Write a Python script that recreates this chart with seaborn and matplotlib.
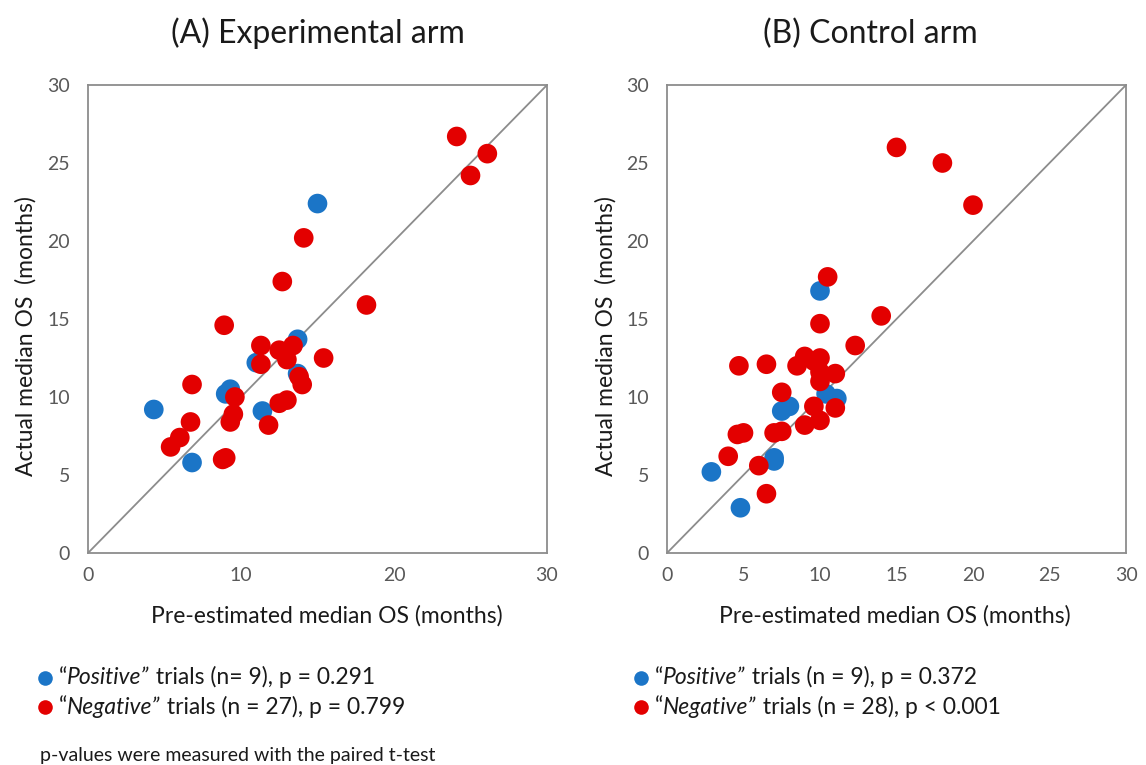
import matplotlib
matplotlib.use("Agg")
import matplotlib.pyplot as plt
import seaborn as sns
import pandas as pd
from matplotlib.lines import Line2D

# ---------------- data ----------------
# Panel A: Experimental arm
a_pos_pre = [15.0, 13.7, 11.0, 13.7, 9.3, 9.0, 4.3, 11.4, 6.8]
a_pos_act = [22.4, 13.7, 12.2, 11.5, 10.5, 10.2, 9.2, 9.1, 5.8]
a_neg_pre = [24.1, 26.1, 25.0, 14.1, 12.7, 18.2, 8.9, 11.3, 12.5, 13.4, 13.0, 11.3,
             15.4, 13.8, 14.0, 6.8, 9.6, 12.5, 13.0, 9.5, 9.3, 6.7, 11.8, 6.0, 5.4,
             8.8, 9.0]
a_neg_act = [26.7, 25.6, 24.2, 20.2, 17.4, 15.9, 14.6, 13.3, 13.0, 13.3, 12.4, 12.1,
             12.5, 11.3, 10.8, 10.8, 10.0, 9.6, 9.8, 8.9, 8.4, 8.4, 8.2, 7.4, 6.8,
             6.0, 6.1]

# Panel B: Control arm
b_pos_pre = [10.0, 10.4, 11.1, 8.0, 7.5, 7.0, 7.0, 2.9, 4.8]
b_pos_act = [16.8, 10.2, 9.9, 9.4, 9.1, 6.1, 5.9, 5.2, 2.9]
b_neg_pre = [15.0, 18.0, 20.0, 10.5, 10.0, 14.0, 12.3, 4.7, 6.5, 8.5, 9.0, 9.6,
             10.0, 10.0, 11.0, 10.0, 7.5, 9.6, 11.0, 10.0, 9.0, 4.6, 5.0, 7.0,
             7.5, 4.0, 6.0, 6.5]
b_neg_act = [26.0, 25.0, 22.3, 17.7, 14.7, 15.2, 13.3, 12.0, 12.1, 12.0, 12.6, 12.3,
             12.5, 11.6, 11.5, 11.0, 10.3, 9.4, 9.3, 8.5, 8.2, 7.6, 7.7, 7.7,
             7.8, 6.2, 5.6, 3.8]

titles = ["(A) Experimental arm", "(B) Control arm"]
legend_a = [("Positive", " trials (n= 9), p = 0.291"),
            ("Negative", " trials (n = 27), p = 0.799")]
legend_b = [("Positive", " trials (n = 9), p = 0.372"),
            ("Negative", " trials (n = 28), p < 0.001")]
ticks = [0, 10, 20, 30]
ticks_b = [0, 5, 10, 15, 20, 25, 30]
yticks = [0, 5, 10, 15, 20, 25, 30]
xlabel = "Pre-estimated median OS (months)"
ylabel = "Actual median OS  (months)"
footnote = "p-values were measured with the paired t-test"

BLUE = "#1b75c7"
RED = "#e30000"
GRAY = "#595959"
TXT = "#1a1a1a"

sns.set_theme(style="white")
plt.rcParams['font.family'] = ['Lato', 'DejaVu Sans']

fig = plt.figure(figsize=(11.46, 7.65), dpi=100)
W, H = 1146, 765


def make_df(pp, pa, np_, na):
    return pd.DataFrame({
        "pre": pp + np_,
        "act": pa + na,
        "grp": ["Positive"] * len(pp) + ["Negative"] * len(np_),
    })


dfs = [make_df(a_pos_pre, a_pos_act, a_neg_pre, a_neg_act),
       make_df(b_pos_pre, b_pos_act, b_neg_pre, b_neg_act)]
lefts = [88, 667]
xtick_sets = [ticks, ticks_b]
legends = [legend_a, legend_b]
title_x = [0.5, 0.442]
xlab_x = [0.52, 0.497]
ylab_x = [-0.112, -0.110]
leg_x0 = [45, 641]
for i in range(2):
    ax = fig.add_axes([lefts[i] / W, 1 - 553 / H, 459 / W, 468 / H])
    ax.plot([0, 30], [0, 30], color="#8c8c8c", lw=1.3, zorder=1)
    sns.scatterplot(data=dfs[i], x="pre", y="act", hue="grp",
                    hue_order=["Positive", "Negative"],
                    palette={"Positive": BLUE, "Negative": RED},
                    s=200, edgecolor="none", legend=False, ax=ax, zorder=3)
    ax.set_xlim(0, 30)
    ax.set_ylim(0, 30)
    ax.set_xticks(xtick_sets[i])
    ax.set_yticks(yticks)
    ax.tick_params(axis="x", length=0, labelsize=14, labelcolor=GRAY, pad=10)
    ax.tick_params(axis="y", length=0, labelsize=14, labelcolor=GRAY, pad=13)
    for sp in ax.spines.values():
        sp.set_color("#8c8c8c")
        sp.set_linewidth(1.3)
    ax.set_xlabel(xlabel, fontsize=16.5, color=TXT)
    ax.xaxis.set_label_coords(xlab_x[i], -0.112)
    ax.set_ylabel(ylabel, fontsize=16.5, color=TXT)
    ax.yaxis.set_label_coords(ylab_x[i], 0.464)
    ax.set_title(titles[i], fontsize=23, pad=30, color=TXT, x=title_x[i])

    # legend (manual, with italic words)
    x0 = leg_x0[i]
    for j, (word, rest) in enumerate(legends[i]):
        yc = [678, 707][j]
        col = [BLUE, RED][j]
        fig.add_artist(Line2D([x0 / W], [1 - yc / H], marker="o", ms=10.5,
                              color=col, mec="none", transform=fig.transFigure))
        t1 = fig.text((x0 + 14) / W, 1 - yc / H, "\u201c", fontsize=16.5,
                      va="center", ha="left", color=TXT)
        t2 = ax.annotate(word + "\u201d", xy=(1, 0), xycoords=t1, va="bottom",
                         ha="left", fontsize=16.5, style="italic",
                         color=TXT, annotation_clip=False)
        ax.annotate(rest, xy=(1, 0), xycoords=t2, va="bottom", ha="left",
                    fontsize=16.5, color=TXT, annotation_clip=False)

fig.text(40 / W, 1 - 755 / H, footnote, fontsize=14, va="center", ha="left",
         color=TXT)

fig.savefig("out.png", dpi=100, facecolor="white")
